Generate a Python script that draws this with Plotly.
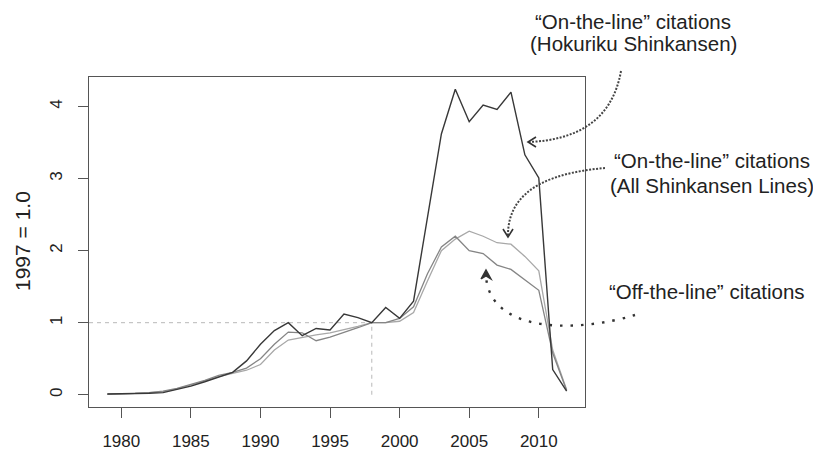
import plotly.graph_objects as go

# Citation indices, normalised so that the base year equals 1.0
years = list(range(1979, 2013))

hokuriku_on_line = [0.01, 0.01, 0.02, 0.02, 0.03, 0.07, 0.12, 0.18, 0.25, 0.31,
                    0.47, 0.70, 0.89, 1.00, 0.82, 0.92, 0.90, 1.12, 1.07, 1.00,
                    1.21, 1.06, 1.30, 2.48, 3.62, 4.24, 3.79, 4.02, 3.96, 4.20,
                    3.33, 3.01, 0.35, 0.05]

all_lines_on_line = [0.01, 0.01, 0.02, 0.03, 0.04, 0.08, 0.13, 0.19, 0.25, 0.29,
                     0.34, 0.42, 0.62, 0.76, 0.80, 0.83, 0.86, 0.90, 0.95, 1.00,
                     1.00, 1.02, 1.14, 1.58, 2.00, 2.16, 2.27, 2.20, 2.11, 2.09,
                     1.92, 1.72, 0.62, 0.07]

off_line = [0.01, 0.01, 0.02, 0.03, 0.05, 0.09, 0.14, 0.20, 0.27, 0.31,
            0.37, 0.50, 0.70, 0.87, 0.86, 0.75, 0.80, 0.86, 0.93, 1.00,
            1.00, 1.06, 1.22, 1.68, 2.05, 2.20, 2.00, 1.96, 1.80, 1.74,
            1.60, 1.45, 0.58, 0.06]

x_ticks = [1980, 1985, 1990, 1995, 2000, 2005, 2010]
y_ticks = [0, 1, 2, 3, 4]
ref_year = 1998
ref_value = 1.0

x_range = [1977.68, 2013.32]
y_range = [-0.17, 4.41]

FONT = "Liberation Sans, Arial, Helvetica, sans-serif"
TXT = "#222222"

# plot-area geometry in pixels (used to place text and arrows in paper space)
W, H = 813, 451
L, R, T, B = 89, 585, 77, 407


def px(x):
    return (x - L) / (R - L)


def py(y):
    return (B - y) / (B - T)


fig = go.Figure()

# reference guides through the base point
fig.add_trace(go.Scatter(x=[x_range[0], ref_year], y=[ref_value, ref_value],
                         mode="lines", line=dict(color="#b8b8b8", width=1, dash="4px,4px"),
                         hoverinfo="skip", showlegend=False))
fig.add_trace(go.Scatter(x=[ref_year, ref_year], y=[0, ref_value],
                         mode="lines", line=dict(color="#b8b8b8", width=1, dash="4px,4px"),
                         hoverinfo="skip", showlegend=False))

fig.add_trace(go.Scatter(x=years, y=all_lines_on_line, mode="lines",
                         line=dict(color="#a8a8a8", width=1.3), showlegend=False))
fig.add_trace(go.Scatter(x=years, y=off_line, mode="lines",
                         line=dict(color="#858585", width=1.3), showlegend=False))
fig.add_trace(go.Scatter(x=years, y=hokuriku_on_line, mode="lines",
                         line=dict(color="#383838", width=1.4), showlegend=False))


def pts_path(points, cmd):
    """Build an SVG path in paper coordinates from pixel points."""
    s = ""
    for c, (a, b) in zip(cmd, points):
        s += f"{c}{px(a):.5f},{py(b):.5f} "
    return s.strip()


shapes = []
# curved pointer to the Hokuriku line
shapes.append(dict(type="path", xref="paper", yref="paper",
                   path=f"M{px(621):.5f},{py(71):.5f} C{px(612):.5f},{py(122):.5f} "
                        f"{px(575):.5f},{py(140):.5f} {px(529):.5f},{py(142):.5f}",
                   line=dict(color="#444444", width=2, dash="2px,1.5px")))
shapes.append(dict(type="path", xref="paper", yref="paper",
                   path=pts_path([(536, 137), (528, 142), (536, 147)], "MLL"),
                   line=dict(color="#333333", width=1.6)))

# curved pointer to the all-lines series
shapes.append(dict(type="path", xref="paper", yref="paper",
                   path=f"M{px(605):.5f},{py(168):.5f} C{px(560):.5f},{py(172):.5f} "
                        f"{px(508):.5f},{py(185):.5f} {px(508):.5f},{py(235):.5f}",
                   line=dict(color="#444444", width=2, dash="2px,1.5px")))
shapes.append(dict(type="path", xref="paper", yref="paper",
                   path=pts_path([(503, 229), (508, 237), (513, 229)], "MLL"),
                   line=dict(color="#333333", width=1.6)))

# curved pointer to the off-the-line series
shapes.append(dict(type="path", xref="paper", yref="paper",
                   path=f"M{px(635):.5f},{py(315):.5f} C{px(580):.5f},{py(332):.5f} "
                        f"{px(490):.5f},{py(335):.5f} {px(486):.5f},{py(276):.5f}",
                   line=dict(color="#333333", width=2.4, dash="2.5px,8px")))
shapes.append(dict(type="path", xref="paper", yref="paper",
                   path=pts_path([(481, 279), (486, 270), (491, 279), (486, 276), (481, 279)], "MLLLL"),
                   fillcolor="#333333",
                   line=dict(color="#333333", width=1.4)))

annotations = []


def label(text, cx, cy, size=20.5):
    annotations.append(dict(text=text, xref="paper", yref="paper", x=px(cx), y=py(cy),
                            xanchor="center", yanchor="middle", showarrow=False,
                            font=dict(family=FONT, size=size, color=TXT)))


label("\u201cOn-the-line\u201d citations", 633, 21)
label("(Hokuriku Shinkansen)", 633, 43)
label("\u201cOn-the-line\u201d citations", 712, 160)
label("(All Shinkansen Lines)", 712, 185)
label("\u201cOff-the-line\u201d citations", 707, 291)

annotations.append(dict(text="1997 = 1.0", xref="paper", yref="paper",
                        x=px(22), y=py(241), xanchor="center", yanchor="middle",
                        textangle=-90, showarrow=False,
                        font=dict(family=FONT, size=21, color=TXT)))

fig.update_layout(
    width=W, height=H,
    margin=dict(l=L, r=W - R, t=T, b=H - B, pad=0, autoexpand=False),
    paper_bgcolor="white", plot_bgcolor="white",
    shapes=shapes, annotations=annotations,
    font=dict(family=FONT, color=TXT),
)

fig.update_xaxes(range=x_range, tickvals=x_ticks, ticktext=[str(v) for v in x_ticks],
                 showgrid=False, zeroline=False, showline=True, mirror=True,
                 linecolor="#555555", linewidth=1, automargin=False,
                 ticks="outside", ticklen=10, tickcolor="#555555", tickwidth=1,
                 ticklabelstandoff=9,
                 tickfont=dict(family=FONT, size=17, color=TXT))
fig.update_yaxes(range=y_range, tickvals=y_ticks, ticktext=[str(v) for v in y_ticks],
                 showgrid=False, zeroline=False, showline=True, mirror=True,
                 linecolor="#555555", linewidth=1, automargin=False,
                 ticks="outside", ticklen=10, tickcolor="#555555", tickwidth=1,
                 tickangle=-90, ticklabelstandoff=9,
                 tickfont=dict(family=FONT, size=17, color=TXT))

fig.write_html("out.html")
